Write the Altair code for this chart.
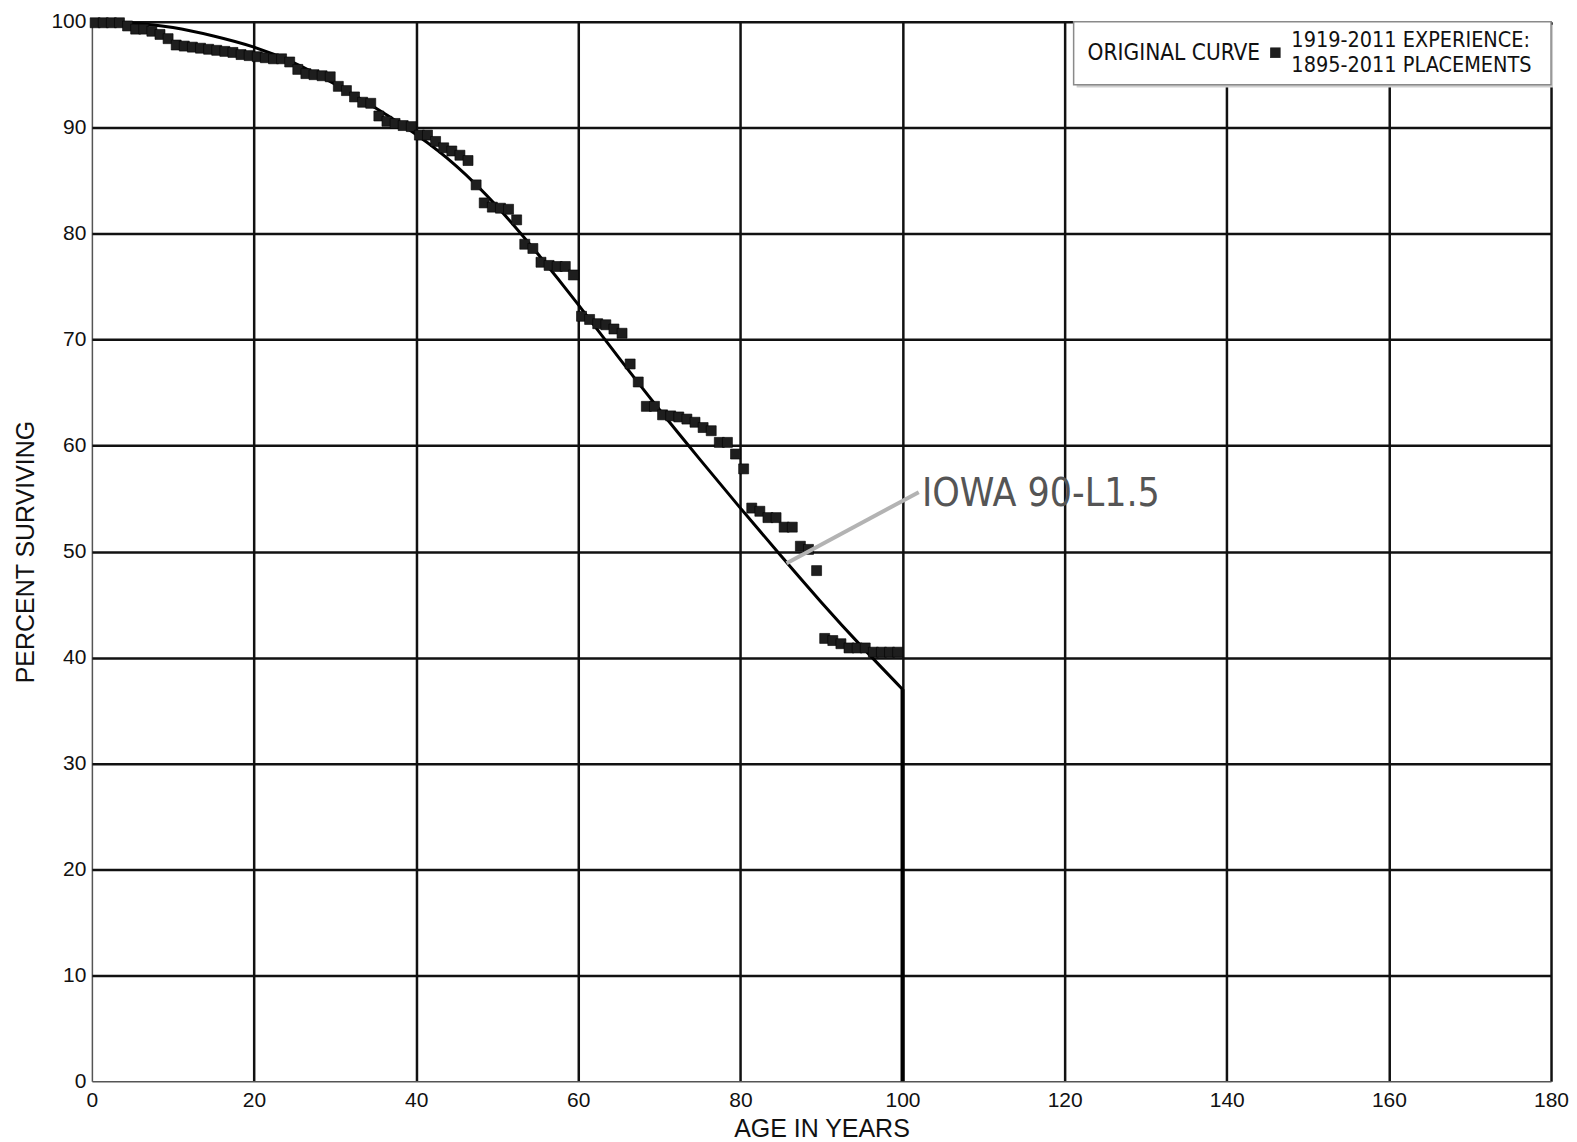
import altair as alt
import pandas as pd

# ---- observed retirement experience (age in years, percent surviving) ----
AGES = [0.4, 1.4, 2.4, 3.4, 4.4, 5.4, 6.4, 7.4, 8.4, 9.4,
        10.4, 11.4, 12.4, 13.4, 14.4, 15.4, 16.4, 17.4, 18.4, 19.4,
        20.4, 21.4, 22.4, 23.4, 24.4, 25.4, 26.4, 27.4, 28.4, 29.4,
        30.4, 31.4, 32.4, 33.4, 34.4, 35.4, 36.4, 37.4, 38.4, 39.4,
        40.4, 41.4, 42.4, 43.4, 44.4, 45.4, 46.4, 47.4, 48.4, 49.4,
        50.4, 51.4, 52.4, 53.4, 54.4, 55.4, 56.4, 57.4, 58.4, 59.4,
        60.4, 61.4, 62.4, 63.4, 64.4, 65.4, 66.4, 67.4, 68.4, 69.4,
        70.4, 71.4, 72.4, 73.4, 74.4, 75.4, 76.4, 77.4, 78.4, 79.4,
        80.4, 81.4, 82.4, 83.4, 84.4, 85.4, 86.4, 87.4, 88.4, 89.4,
        90.4, 91.4, 92.4, 93.4, 94.4, 95.4, 96.4, 97.4, 98.4, 99.4]
PCT = [99.9, 99.9, 99.9, 99.9, 99.6, 99.3, 99.3, 99.1, 98.8, 98.4,
       97.8, 97.7, 97.6, 97.5, 97.4, 97.3, 97.2, 97.1, 96.9, 96.8,
       96.7, 96.6, 96.5, 96.5, 96.2, 95.5, 95.1, 95.0, 94.9, 94.8,
       93.9, 93.5, 92.9, 92.4, 92.3, 91.1, 90.6, 90.4, 90.2, 90.1,
       89.3, 89.3, 88.7, 88.1, 87.8, 87.4, 86.9, 84.6, 82.9, 82.5,
       82.4, 82.3, 81.3, 79.0, 78.6, 77.3, 77.0, 76.9, 76.9, 76.1,
       72.2, 71.9, 71.5, 71.4, 71.0, 70.6, 67.7, 66.0, 63.7, 63.7,
       62.9, 62.8, 62.7, 62.5, 62.2, 61.7, 61.4, 60.3, 60.3, 59.2,
       57.8, 54.1, 53.8, 53.2, 53.2, 52.3, 52.3, 50.5, 50.2, 48.2,
       41.8, 41.6, 41.3, 40.9, 40.9, 40.9, 40.5, 40.5, 40.5, 40.5]

# ---- Iowa 90-L1.5 curve ----
CURVE_AGE = [0, 5, 10, 15, 20, 25, 30, 35, 40, 45, 50,
             55, 60, 65, 70, 75, 80, 85, 90, 95, 100]
CURVE_PCT = [100.0, 99.85, 99.45, 98.65, 97.6, 96.1, 94.1, 91.85, 89.35, 86.35, 82.55,
             78.1, 73.3, 68.3, 63.4, 58.7, 54.1, 49.6, 45.2, 41.0, 37.0]

# ---- annotation ----
LEADER_AGE = [85.7, 102.0]
LEADER_PCT = [48.9, 55.6]
LABEL_AGE = [102.4]
LABEL_PCT = [55.4]
LABEL_TEXT = ["IOWA 90-L1.5"]

X_TICKS = [0, 20, 40, 60, 80, 100, 120, 140, 160, 180]
Y_TICKS = [0, 10, 20, 30, 40, 50, 60, 70, 80, 90, 100]

LEGEND_LEFT = "ORIGINAL CURVE"
LEGEND_LINES = ["1919-2011 EXPERIENCE:", "1895-2011 PLACEMENTS"]

W, H = 1461, 1061
LABEL_FONT = "Liberation Sans"
NOTE_FONT = "DejaVu Sans Condensed, DejaVu Sans"

pts = pd.DataFrame({"age": AGES, "pct": PCT})
curve = pd.DataFrame({"age": CURVE_AGE, "pct": CURVE_PCT})
drop = pd.DataFrame({"age": [CURVE_AGE[-1]], "lo": [0], "hi": [CURVE_PCT[-1]]})
leader = pd.DataFrame({"age": LEADER_AGE, "pct": LEADER_PCT})
label = pd.DataFrame({"age": LABEL_AGE, "pct": LABEL_PCT, "t": LABEL_TEXT})

xs = alt.Scale(domain=[0, 180], nice=False, zero=False)
ys = alt.Scale(domain=[0, 100], nice=False)

grid_w = {"condition": {"test": "datum.value === 0", "value": 1.5}, "value": 2.5}
grid_c = {"condition": {"test": "datum.value === 0", "value": "#555555"}, "value": "#111111"}

xaxis = alt.Axis(values=X_TICKS, title="AGE IN YEARS", grid=True, gridColor=grid_c,
                 gridWidth=grid_w, gridOpacity=1, domain=False, ticks=False,
                 labelFlush=False,
                 labelFont=LABEL_FONT, labelFontSize=21, labelColor="#111",
                 labelPadding=8, titleFont=LABEL_FONT, titleFontSize=25,
                 titleFontWeight="normal", titleColor="#111", titlePadding=6)
yaxis = alt.Axis(values=Y_TICKS, title="PERCENT SURVIVING", grid=True, gridColor=grid_c,
                 gridWidth=grid_w, gridOpacity=1, domain=False, ticks=False,
                 labelFlush=False,
                 labelFont=LABEL_FONT, labelFontSize=21, labelColor="#111",
                 labelPadding=6, titleFont=LABEL_FONT, titleFontSize=25,
                 titleFontWeight="normal", titleColor="#111", titlePadding=12)

X = alt.X("age:Q", scale=xs, axis=xaxis)
Y = alt.Y("pct:Q", scale=ys, axis=yaxis)

line = alt.Chart(curve).mark_line(color="#000", strokeWidth=3, interpolate="natural").encode(x=X, y=Y)
droprule = alt.Chart(drop).mark_rule(color="#000", strokeWidth=4).encode(
    x=alt.X("age:Q", scale=xs), y=alt.Y("lo:Q", scale=ys), y2="hi:Q")
points = alt.Chart(pts).mark_square(size=100, color="#1e1e1e", opacity=1,
                                    stroke="#000", strokeWidth=0.6).encode(x=X, y=Y)
lead = alt.Chart(leader).mark_line(color="#b3b3b3", strokeWidth=4).encode(x=X, y=Y)
note = alt.Chart(label).mark_text(align="left", baseline="middle", font=NOTE_FONT,
                                  fontSize=39, color="#555").encode(x=X, y=Y, text="t:N")

# ---- legend box (top right) ----
one = pd.DataFrame({"k": [0]})
shadow = alt.Chart(one).mark_rect(fill="#cfcfcf").encode(
    x=alt.value(986), x2=alt.value(W + 2), y=alt.value(3), y2=alt.value(66))
box = alt.Chart(one).mark_rect(fill="white", stroke="#8a8a8a", strokeWidth=1.5).encode(
    x=alt.value(983), x2=alt.value(W), y=alt.value(0), y2=alt.value(63))
lg1 = alt.Chart(pd.DataFrame({"t": [LEGEND_LEFT]})).mark_text(
    align="left", baseline="middle", font=NOTE_FONT, fontSize=22.5, color="#111").encode(
    x=alt.value(997), y=alt.value(31), text="t:N")
lgsym = alt.Chart(one).mark_square(size=110, color="#1e1e1e", opacity=1).encode(
    x=alt.value(1185), y=alt.value(31))
lg2 = alt.Chart(pd.DataFrame({"t": [LEGEND_LINES[0]]})).mark_text(
    align="left", baseline="middle", font=NOTE_FONT, fontSize=21.5, color="#111").encode(
    x=alt.value(1201), y=alt.value(19), text="t:N")
lg3 = alt.Chart(pd.DataFrame({"t": [LEGEND_LINES[1]]})).mark_text(
    align="left", baseline="middle", font=NOTE_FONT, fontSize=21.5, color="#111").encode(
    x=alt.value(1201), y=alt.value(44), text="t:N")

chart = alt.layer(line, droprule, points, lead, note, shadow, box, lg1, lgsym, lg2, lg3).properties(
    width=W, height=H,
    padding={"left": 5, "top": 2, "right": 0, "bottom": 0},
    background="white",
).configure_view(strokeWidth=0)

chart.save("out.html", embed_options={"renderer": "svg", "actions": False})
